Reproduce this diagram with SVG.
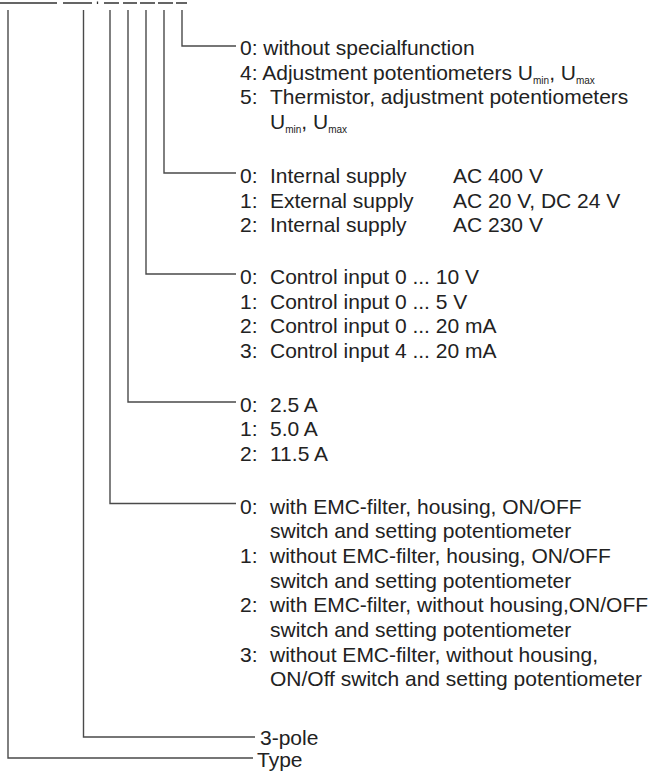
<svg xmlns="http://www.w3.org/2000/svg" width="650" height="771" viewBox="0 0 650 771">
<style>
.ln{fill:none;stroke:#4a4a4a;stroke-width:1.4}
.ul{fill:none;stroke:#333;stroke-width:1.3}
text{font-family:"Liberation Sans",Arial,Helvetica,sans-serif;font-size:21px;fill:#222}
.sub{font-size:10px}
</style>
<rect width="650" height="771" fill="#fff"/>
<g id="code">
<path class="ul" d="M0,3H57M63,3H92M104,3H119M123,3H137M140,3H155M158,3H173M176,3H187"/>
<path class="ul" d="M97.5,1.5V4"/>
</g>
<g id="connectors">
<path class="ln" d="M182,10V46H236"/>
<path class="ln" d="M164,10V173H236"/>
<path class="ln" d="M146,10V274H236"/>
<path class="ln" d="M128,10V402H236"/>
<path class="ln" d="M110,10V503.5H236"/>
<path class="ln" d="M83.5,10V737H255"/>
<path class="ln" d="M8,10V758H253"/>
</g>
<g id="special">
<text x="240" y="55">0: without specialfunction</text>
<text x="240" y="79.7">4: Adjustment potentiometers U<tspan class="sub" dy="4">min</tspan><tspan dy="-4">, U</tspan><tspan class="sub" dy="4">max</tspan></text>
<text x="240" y="104.4">5:<tspan x="270">Thermistor, adjustment potentiometers</tspan></text>
<text x="270" y="129">U<tspan class="sub" dy="4">min</tspan><tspan dy="-4">, U</tspan><tspan class="sub" dy="4">max</tspan></text>
</g>
<g id="supply">
<text x="240" y="183">0:<tspan x="270">Internal supply</tspan><tspan x="453">AC 400 V</tspan></text>
<text x="240" y="207.7">1:<tspan x="270">External supply</tspan><tspan x="453">AC 20 V, DC 24 V</tspan></text>
<text x="240" y="232.4">2:<tspan x="270">Internal supply</tspan><tspan x="453">AC 230 V</tspan></text>
</g>
<g id="control">
<text x="240" y="284">0:<tspan x="270">Control input 0 ... 10 V</tspan></text>
<text x="240" y="308.7">1:<tspan x="270">Control input 0 ... 5 V</tspan></text>
<text x="240" y="333.4">2:<tspan x="270">Control input 0 ... 20 mA</tspan></text>
<text x="240" y="358">3:<tspan x="270">Control input 4 ... 20 mA</tspan></text>
</g>
<g id="current">
<text x="240" y="411.7">0:<tspan x="270">2.5 A</tspan></text>
<text x="240" y="436.4">1:<tspan x="270">5.0 A</tspan></text>
<text x="240" y="461">2:<tspan x="270">11.5 A</tspan></text>
</g>
<g id="version">
<text x="240" y="513.5">0:<tspan x="270">with EMC-filter, housing, ON/OFF</tspan></text>
<text x="270" y="538.2">switch and setting potentiometer</text>
<text x="240" y="562.9">1:<tspan x="270">without EMC-filter, housing, ON/OFF</tspan></text>
<text x="270" y="587.6">switch and setting potentiometer</text>
<text x="240" y="612.3">2:<tspan x="270">with EMC-filter, without housing,ON/OFF</tspan></text>
<text x="270" y="637">switch and setting potentiometer</text>
<text x="240" y="661.7">3:<tspan x="270">without EMC-filter, without housing,</tspan></text>
<text x="270" y="686.4">ON/Off switch and setting potentiometer</text>
</g>
<g id="pole">
<text x="260" y="745">3-pole</text>
</g>
<g id="type">
<text x="257" y="767">Type</text>
</g>
</svg>
